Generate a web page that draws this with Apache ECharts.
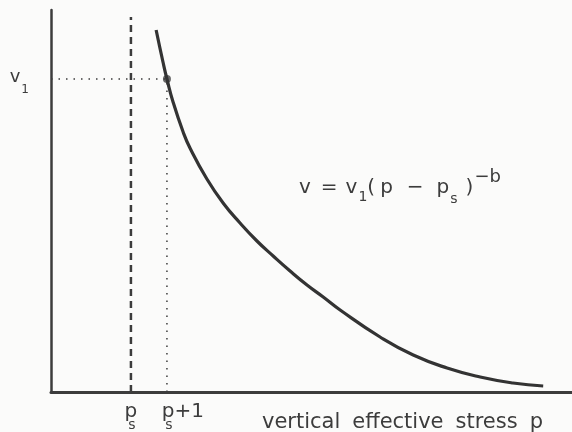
<!DOCTYPE html>
<html>
<head>
<meta charset="utf-8">
<script src="https://cdn.jsdelivr.net/npm/echarts@6/dist/echarts.min.js"></script>
<style>
  html, body { margin: 0; padding: 0; background: #fbfbfa; }
  #chart { width: 572px; height: 432px; }
</style>
</head>
<body>
<div id="chart"></div>
<script>
// Compression curve: specific volume against vertical effective stress
const pS = 2.22;            // p_s
const pS1 = 3.22;           // p_s + 1
const v1 = 3.13;            // v at p = p_s + 1
const vTop = 3.75;          // top of the p_s guide line
const pMax = 14.47;
const vMax = 3.82;

const curveP = [2.92, 3.11, 3.22, 3.39, 3.67, 3.86, 4.33, 4.78, 5.25, 5.72, 6.17, 6.64, 7.11, 7.56, 8.03, 9.14, 10.06, 11.0, 11.92, 12.83, 13.67];
const curveV = [3.62, 3.30, 3.13, 2.90, 2.60, 2.44, 2.13, 1.89, 1.69, 1.51, 1.36, 1.21, 1.07, 0.95, 0.82, 0.55, 0.37, 0.24, 0.15, 0.09, 0.06];

const xTickValues = [pS, pS1];
const xTickLabels = ['{b|p}\n{s|s}', '{bp|p}{b|+1}\n{sp|s}'];
const yTickValues = [v1];
const yTickLabels = ['{b|v}{s|1}'];

const ink = '#3c3c3c';
const font = 'DejaVu Sans';

const xRich = {
  b: { fontFamily: font, fontSize: 20, lineHeight: 12, color: ink },
  bp: { fontFamily: font, fontSize: 20, lineHeight: 12, color: ink, padding: [0, 0, 0, 32] },
  s: { fontFamily: font, fontSize: 14, lineHeight: 14, color: ink, padding: [0, 0, 0, 2] },
  sp: { fontFamily: font, fontSize: 14, lineHeight: 14, color: ink, padding: [0, 0, 0, 4] }
};

const yRich = {
  b: { fontFamily: font, fontSize: 18, lineHeight: 22, color: ink, verticalAlign: 'top' },
  s: { fontFamily: font, fontSize: 12, lineHeight: 14, color: ink, verticalAlign: 'top', padding: [16, 0, 0, 1] }
};

const nameRich = {
  t: { fontFamily: font, fontSize: 21, color: ink },
  g: { fontFamily: font, fontSize: 21, color: ink, width: 12 }
};

function tickLabel(i) {
  return function () { return xTickLabels[i]; };
}

const chart = echarts.init(document.getElementById('chart'), null, { renderer: 'canvas' });

chart.setOption({
  backgroundColor: '#fbfbfa',
  animation: false,
  grid: { left: 51, right: 0, top: 10, bottom: 40, containLabel: false, outerBoundsMode: 'none' },
  xAxis: [
    {
      type: 'value',
      min: 0,
      max: pMax,
      splitLine: { show: false },
      axisTick: { show: false },
      axisLine: { show: true, lineStyle: { color: ink, width: 3 } },
      axisLabel: {
        customValues: [xTickValues[0]],
        margin: 14,
        formatter: tickLabel(0),
        rich: xRich
      },
      name: '{t|vertical}{g| }{t|effective}{g| }{t|stress}{g| }{t|p}',
      nameLocation: 'end',
      nameGap: 0,
      nameMoveOverlap: false,
      nameTextStyle: {
        fontFamily: font, fontSize: 21, color: ink,
        align: 'right', verticalAlign: 'top', padding: [20, 29, 0, 0],
        rich: nameRich
      }
    },
    {
      // second label row for p_s + 1, sharing the same scale
      type: 'value',
      position: 'bottom',
      offset: 0,
      min: 0,
      max: pMax,
      splitLine: { show: false },
      axisTick: { show: false },
      axisLine: { show: false },
      axisLabel: {
        customValues: [xTickValues[1]],
        margin: 14,
        formatter: tickLabel(1),
        rich: xRich
      }
    }
  ],
  yAxis: {
    type: 'value',
    min: 0,
    max: vMax,
    splitLine: { show: false },
    axisTick: { show: false },
    axisLine: { show: true, lineStyle: { color: ink, width: 2.5 } },
    axisLabel: {
      customValues: yTickValues,
      margin: 22,
      formatter: function (val) {
        const i = yTickValues.findIndex(function (t) { return Math.abs(t - val) < 1e-6; });
        return i >= 0 ? yTickLabels[i] : '';
      },
      rich: yRich
    },
    name: 'specific volume v',
    nameLocation: 'middle',
    nameRotate: 90,
    nameGap: 30,
    nameTextStyle: {
      fontFamily: font, fontSize: 21, color: ink, padding: [0, 54, 0, 0]
    }
  },
  series: [
    {
      name: 'ps guide',
      type: 'line',
      data: [[pS, 0], [pS, vTop]],
      symbol: 'none',
      lineStyle: { color: ink, width: 2.5, type: [7, 5] },
      silent: true
    },
    {
      name: 'v1 guide',
      type: 'line',
      data: [[0, v1], [pS1, v1]],
      symbol: 'none',
      lineStyle: { color: ink, width: 1.5, type: [1.5, 6] },
      silent: true
    },
    {
      name: 'ps+1 guide',
      type: 'line',
      data: [[pS1, 0], [pS1, v1]],
      symbol: 'none',
      lineStyle: { color: ink, width: 1.5, type: [1.5, 6] },
      silent: true
    },
    {
      name: 'curve',
      type: 'line',
      data: curveP.map(function (p, i) { return [p, curveV[i]]; }),
      smooth: 0.5,
      symbol: 'none',
      lineStyle: { color: '#333', width: 3.2 }
    },
    {
      name: 'reference point',
      type: 'scatter',
      data: [[pS1, v1]],
      symbol: 'circle',
      symbolSize: 8,
      itemStyle: { color: '#444' }
    }
  ],
  graphic: [
    {
      type: 'text',
      left: 299,
      top: 168,
      style: {
        text: '{b|v}{b10|=}{b8|v}{s|1}{b|(}{b5|p}{b14|−}{b13|p}{s2|s}{b8|)}{sup|−b}',
        fill: ink,
        rich: {
          b: { fontFamily: font, fontSize: 20, lineHeight: 24, fill: ink, verticalAlign: 'top', padding: [10, 0, 0, 0] },
          b5: { fontFamily: font, fontSize: 20, lineHeight: 24, fill: ink, verticalAlign: 'top', padding: [10, 0, 0, 5] },
          b8: { fontFamily: font, fontSize: 20, lineHeight: 24, fill: ink, verticalAlign: 'top', padding: [10, 0, 0, 8] },
          b10: { fontFamily: font, fontSize: 20, lineHeight: 24, fill: ink, verticalAlign: 'top', padding: [10, 0, 0, 10] },
          b13: { fontFamily: font, fontSize: 20, lineHeight: 24, fill: ink, verticalAlign: 'top', padding: [10, 0, 0, 13] },
          b14: { fontFamily: font, fontSize: 20, lineHeight: 24, fill: ink, verticalAlign: 'top', padding: [10, 0, 0, 14] },
          s: { fontFamily: font, fontSize: 14, lineHeight: 16, fill: ink, verticalAlign: 'top', padding: [22, 0, 0, 1] },
          s2: { fontFamily: font, fontSize: 14, lineHeight: 16, fill: ink, verticalAlign: 'top', padding: [24, 0, 0, 1] },
          sup: { fontFamily: font, fontSize: 18, lineHeight: 20, fill: ink, verticalAlign: 'top', padding: [0, 0, 0, 1] }
        }
      }
    }
  ]
});
</script>
</body>
</html>
